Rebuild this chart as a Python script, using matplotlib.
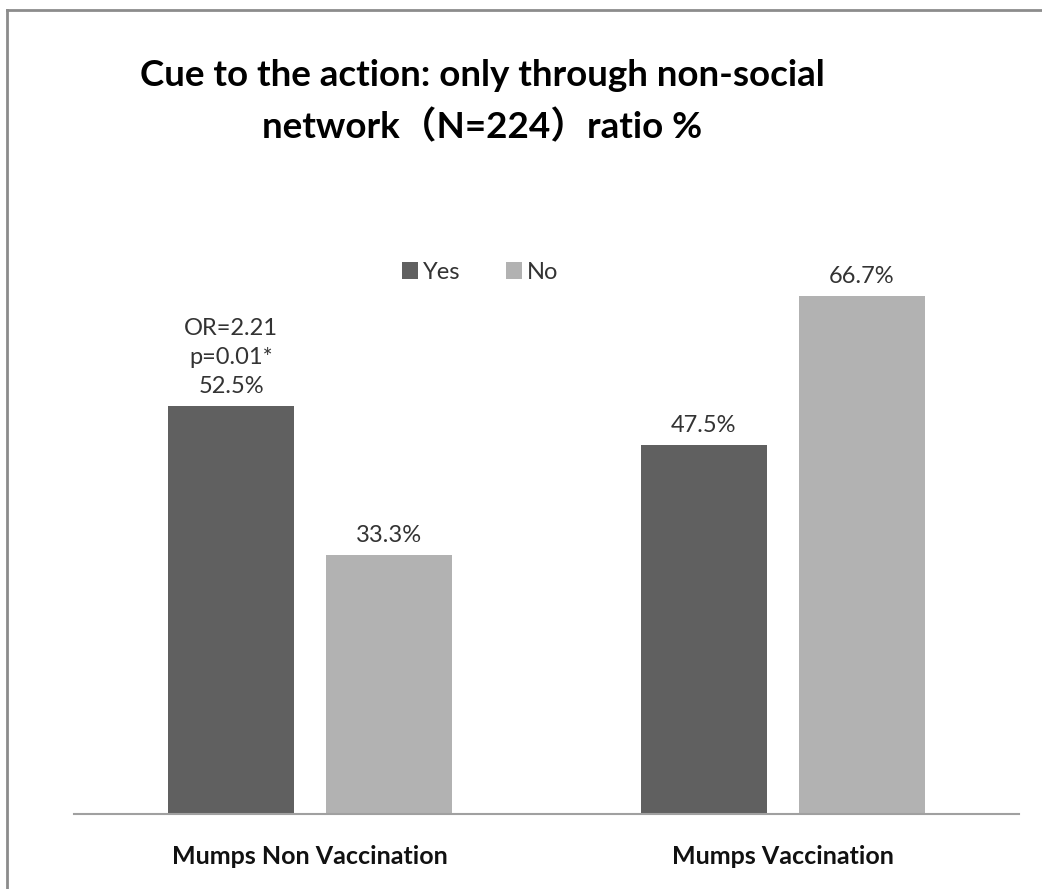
import numpy as np
import matplotlib
matplotlib.use("Agg")
import matplotlib.pyplot as plt
from matplotlib.lines import Line2D

# Data
categories = ["Mumps Non Vaccination", "Mumps Vaccination"]
series_names = ["Yes", "No"]
yes_values = [52.5, 47.5]
no_values = [33.3, 66.7]
first_note = "OR=2.21\np=0.01*"

title_lines = ["Cue to the action: only through non-social",
               "network\uff08N=224\uff09ratio %"]

dark = "#606060"
light = "#b2b2b2"
fonts = ["Lato", "Noto Sans CJK JP", "DejaVu Sans"]

plt.rcParams["font.family"] = fonts

fig = plt.figure(figsize=(10.42, 8.89), dpi=100)
ax = fig.add_axes([0.071, 0.0844, 0.9069, 0.6985])

x = np.arange(len(categories))
w = 0.2667
off = 0.1672
b1 = ax.bar(x - off, yes_values, w, color=dark, label=series_names[0])
b2 = ax.bar(x + off, no_values, w, color=light, label=series_names[1])

ax.set_xlim(-0.5, 1.5)
ax.set_ylim(0, 80)
ax.set_yticks([])
ax.set_xticks(x)
ax.set_xticklabels(categories, fontsize=18, fontweight="bold", color="#111111")
ax.tick_params(axis="x", length=0, pad=22)
for s in ["top", "right", "left"]:
    ax.spines[s].set_visible(False)
ax.spines["bottom"].set_color("#a0a0a0")
ax.spines["bottom"].set_linewidth(1.5)

# value labels above bars
for i, (xi, v) in enumerate(zip(x - off, yes_values)):
    txt = f"{v}%"
    if i == 0:
        txt = first_note + "\n" + txt
    ax.annotate(txt, (xi, v), xytext=(0, 7), textcoords="offset points",
                ha="center", va="bottom", fontsize=17, color="#333333",
                linespacing=1.45)
for xi, v in zip(x + off, no_values):
    ax.annotate(f"{v}%", (xi, v), xytext=(0, 7), textcoords="offset points",
                ha="center", va="bottom", fontsize=17, color="#333333")

ax.legend(loc="center", bbox_to_anchor=(0.4607, 0.694),
          bbox_transform=fig.transFigure, ncol=2, frameon=False,
          fontsize=17, handlelength=0.7, handleheight=0.7,
          handletextpad=0.2, columnspacing=1.9, labelcolor="#333333")

fig.text(0.4626, 0.9156, title_lines[0], ha="center", va="center",
         fontsize=26.5, fontweight="bold", color="black")
fig.text(0.4626, 0.857, title_lines[1], ha="center", va="center",
         fontsize=26.5, fontweight="bold", color="black")

# outer frame (left and top edges)
fig.add_artist(Line2D([7 / 1042, 7 / 1042], [0, 1 - 10 / 889],
                      transform=fig.transFigure, color="#8c8c8c", lw=2))
fig.add_artist(Line2D([7 / 1042, 1], [1 - 10 / 889, 1 - 10 / 889],
                      transform=fig.transFigure, color="#8c8c8c", lw=2))

fig.savefig("out.png", dpi=100)
